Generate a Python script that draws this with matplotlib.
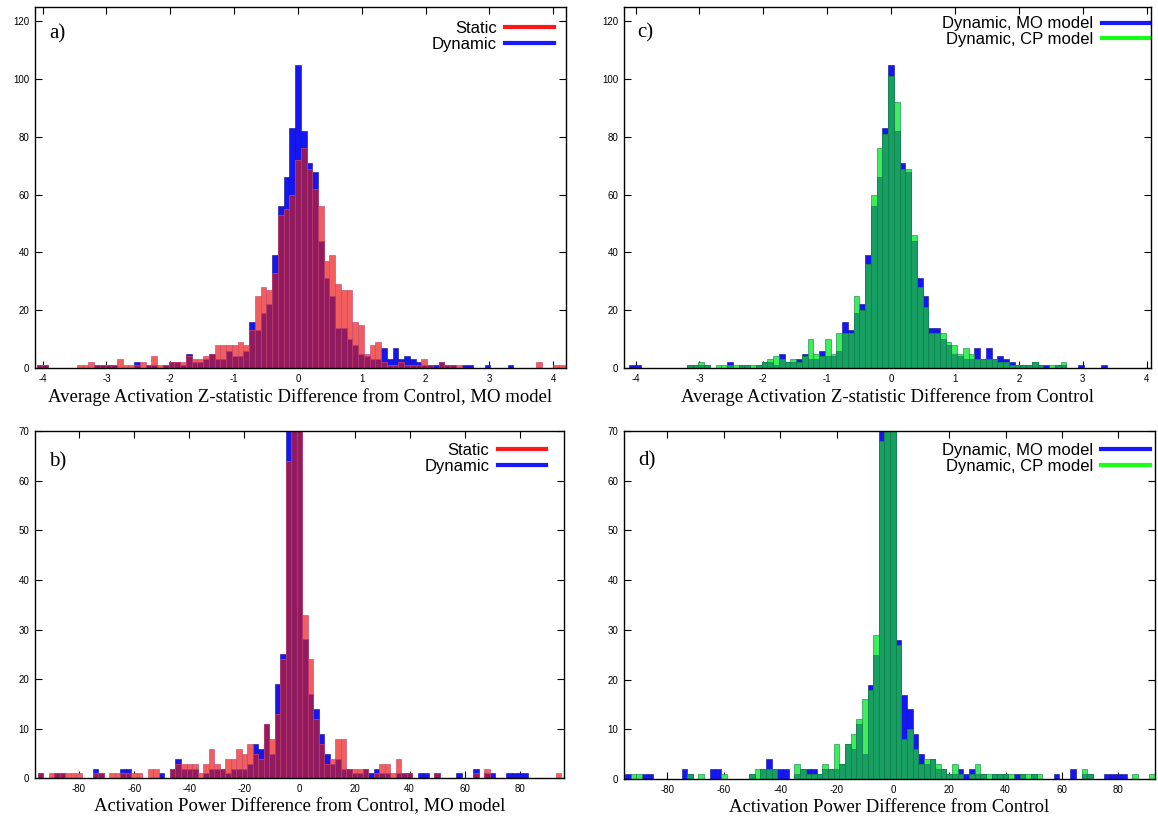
import numpy as np
import matplotlib
matplotlib.use("Agg")
import matplotlib.pyplot as plt
from matplotlib.lines import Line2D

plt.rcParams["axes.unicode_minus"] = False
plt.rcParams["font.family"] = "Liberation Sans"

# z-statistic histograms: bins of 0.09, first bin centred at -4.05
z_first = -4.05
z_width = 0.09
z_dynamic_mo = [1, 1, 0, 0, 0, 0, 0, 0, 0, 0,
                1, 1, 1, 1, 0, 0, 0, 2, 0, 1,
                1, 0, 1, 2, 2, 1, 5, 2, 2, 3,
                5, 3, 3, 6, 4, 4, 6, 16, 13, 19,
                22, 39, 56, 66, 83, 105, 82, 71, 68, 44,
                31, 25, 14, 14, 10, 8, 5, 4, 3, 3,
                7, 3, 7, 3, 4, 3, 2, 1, 1, 1,
                2, 1, 1, 0, 1, 1, 0, 0, 1, 0,
                0, 0, 1, 0, 0, 0, 0, 0, 0, 0,
                0, 0]
z_static_mo = [1, 1, 0, 0, 0, 0, 0, 1, 1, 2,
               1, 1, 1, 1, 3, 1, 1, 1, 2, 1,
               4, 1, 1, 2, 2, 2, 4, 3, 3, 4,
               5, 8, 8, 8, 8, 9, 8, 13, 25, 28,
               27, 33, 53, 55, 60, 72, 76, 69, 62, 56,
               37, 39, 29, 27, 27, 16, 15, 5, 8, 9,
               2, 1, 1, 2, 1, 1, 1, 3, 1, 0,
               2, 1, 1, 1, 0, 0, 0, 0, 0, 0,
               0, 0, 0, 0, 0, 0, 0, 2, 0, 0,
               1, 1]
z_dynamic_cp = [0, 0, 0, 0, 0, 0, 0, 0, 0, 0,
                1, 1, 2, 1, 0, 1, 1, 1, 1, 1,
                1, 1, 1, 2, 3, 4, 3, 2, 3, 2,
                4, 10, 5, 4, 10, 5, 12, 12, 12, 25,
                20, 36, 60, 76, 81, 101, 92, 69, 69, 46,
                28, 21, 12, 12, 12, 9, 8, 5, 7, 5,
                3, 3, 3, 3, 2, 2, 1, 1, 1, 1,
                2, 1, 0, 1, 1, 2, 0, 0, 0, 0,
                0, 0, 0, 0, 0, 0, 0, 0, 0, 0,
                0, 0]

# power histograms: bins of 2, first bin centred at -94 (central bins run off the top)
p_first = -94
p_width = 2
p_dynamic_mo = [1, 0, 0, 1, 1, 0, 0, 0, 0, 0,
                2, 1, 0, 0, 0, 2, 2, 0, 0, 0,
                0, 0, 1, 0, 2, 4, 2, 2, 2, 0,
                1, 2, 2, 2, 1, 2, 2, 2, 3, 7,
                6, 11, 5, 19, 25, 150, 150, 150, 28, 17,
                14, 9, 5, 3, 4, 2, 2, 1, 1, 2,
                1, 2, 1, 1, 0, 1, 1, 1, 0, 1,
                1, 0, 1, 0, 0, 0, 1, 0, 0, 2,
                0, 1, 1, 0, 0, 1, 1, 1, 1, 0,
                0, 0, 0, 0, 0]
p_static_mo = [1, 0, 1, 1, 1, 1, 1, 1, 0, 0,
               1, 1, 0, 1, 1, 1, 1, 1, 1, 0,
               2, 2, 0, 0, 2, 3, 3, 3, 3, 1,
               3, 6, 3, 2, 4, 4, 6, 5, 7, 5,
               4, 11, 8, 13, 24, 64, 150, 150, 33, 24,
               12, 7, 3, 4, 8, 8, 2, 2, 2, 2,
               0, 1, 3, 3, 1, 4, 1, 1, 0, 0,
               0, 0, 1, 0, 0, 0, 0, 0, 0, 1,
               0, 2, 0, 0, 0, 0, 0, 0, 0, 0,
               0, 0, 0, 0, 1]
p_dynamic_cp = [0, 1, 1, 0, 0, 0, 0, 0, 0, 0,
                0, 1, 0, 1, 0, 0, 0, 1, 0, 0,
                0, 0, 1, 2, 2, 2, 2, 0, 0, 0,
                3, 2, 1, 1, 1, 3, 2, 7, 3, 7,
                9, 12, 16, 18, 29, 68, 150, 150, 27, 8,
                10, 6, 3, 4, 4, 3, 2, 1, 3, 1,
                0, 1, 3, 1, 1, 1, 1, 1, 1, 0,
                1, 1, 1, 1, 0, 0, 0, 0, 0, 0,
                0, 2, 1, 0, 0, 0, 0, 0, 0, 0,
                1, 0, 0, 1, 0]

z_centers = z_first + z_width * np.arange(len(z_dynamic_mo))
p_centers = p_first + p_width * np.arange(len(p_dynamic_mo))

BLUE = "#1616ee"
SERIF = "Liberation Serif"
# colour of the top series where it stands alone, and where it covers blue
RED_PAIR = ("#f25e5e", "#921a5e", "#c04070")
GREEN_PAIR = ("#3cee5c", "#17a062", "#0f7a48")


def draw_panel(ax, centers, width, under, over, pair,
               xlim, ylim, xticks, yticks, tag, tag_y, names, key_colors,
               key_anchor, xlabel):
    alone, mixed, edge = pair
    ax.bar(centers, under, width=width, color=BLUE, edgecolor="#0c0c90",
           linewidth=0.4, zorder=2)
    ax.bar(centers, over, width=width, color=alone, edgecolor=edge,
           linewidth=0.4, zorder=3)
    ax.bar(centers, np.minimum(under, over), width=width, color=mixed,
           edgecolor=edge, linewidth=0.4, zorder=4)
    ax.set_xlim(*xlim)
    ax.set_ylim(*ylim)
    ax.set_xticks(xticks)
    ax.set_yticks(yticks)
    ax.tick_params(direction="in", top=True, right=True, length=5, width=0.8,
                   labelsize=7, pad=4)
    for s in ax.spines.values():
        s.set_linewidth(1.0)
        s.set_zorder(6)
    ax.set_xlabel(xlabel, family=SERIF, fontsize=13.5, labelpad=3)
    ax.text(0.026, tag_y, tag, transform=ax.transAxes, family=SERIF,
            fontsize=15, va="center", ha="left")
    handles = [Line2D([], [], color=c, lw=3) for c in key_colors]
    ax.legend(handles, names, loc="upper right", bbox_to_anchor=key_anchor,
              frameon=False, markerfirst=False, fontsize=12, handlelength=2.9,
              handletextpad=0.5, labelspacing=0.05, borderpad=0,
              borderaxespad=0)


fig = plt.figure(figsize=(11.58, 8.19), dpi=100)
ax_a = fig.add_axes([0.0302, 0.5507, 0.4585, 0.4408])
ax_b = fig.add_axes([0.0302, 0.0495, 0.4568, 0.4243])
ax_c = fig.add_axes([0.5389, 0.5507, 0.4551, 0.4408])
ax_d = fig.add_axes([0.5389, 0.0488, 0.4585, 0.4249])

z_ticks = [-4, -3, -2, -1, 0, 1, 2, 3, 4]
p_ticks = [-80, -60, -40, -20, 0, 20, 40, 60, 80]

draw_panel(ax_a, z_centers, z_width, z_dynamic_mo, z_static_mo, RED_PAIR,
           (-4.12, 4.2), (0, 125), z_ticks, range(0, 121, 20), "a)", 0.925,
           ["Static", "Dynamic"], ["#ff1818", "#1818ff"], (0.977, 0.961),
           "Average Activation Z-statistic Difference from Control, MO model")
draw_panel(ax_b, p_centers, p_width, p_dynamic_mo, p_static_mo, RED_PAIR,
           (-96, 96), (0, 70), p_ticks, range(0, 71, 10), "b)", 0.911,
           ["Static", "Dynamic"], ["#ff1818", "#1818ff"], (0.966, 0.966),
           "Activation Power Difference from Control, MO model")
draw_panel(ax_c, z_centers, z_width, z_dynamic_mo, z_dynamic_cp, GREEN_PAIR,
           (-4.18, 4.07), (0, 125), z_ticks, range(0, 121, 20), "c)", 0.928,
           ["Dynamic, MO model", "Dynamic, CP model"], ["#1818ff", "#18ff18"],
           (0.998, 0.974),
           "Average Activation Z-statistic Difference from Control")
draw_panel(ax_d, p_centers, p_width, p_dynamic_mo, p_dynamic_cp, GREEN_PAIR,
           (-95.4, 93), (0, 70), p_ticks, range(0, 71, 10), "d)", 0.914,
           ["Dynamic, MO model", "Dynamic, CP model"], ["#1818ff", "#18ff18"],
           (0.99, 0.966),
           "Activation Power Difference from Control")

fig.savefig("out.png", dpi=100)
